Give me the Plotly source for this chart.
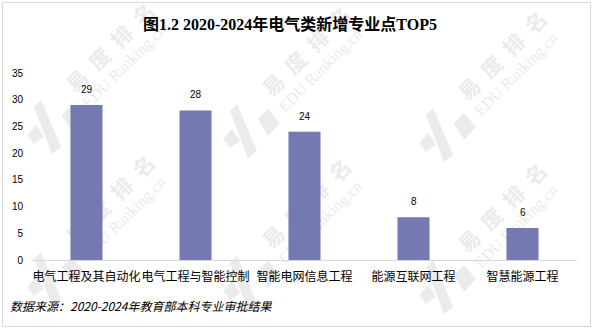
import plotly.graph_objects as go

# ---- data ----
majors = ["电气工程及其自动化", "电气工程与智能控制", "智能电网信息工程", "能源互联网工程", "智慧能源工程"]
new_programs = [29, 28, 24, 8, 6]
y_tick_values = [0, 5, 10, 15, 20, 25, 30, 35]

title_text = "图1.2 2020-2024年电气类新增专业点TOP5"
source_text = "数据来源：2020-2024年教育部本科专业审批结果"
brand_cn = "易\u2002度\u2002排\u2002名"
brand_en = "EDU Ranking.cn"

# ---- canvas geometry ----
W, H = 597, 332
ML, MR, MT, MB = 32, 20, 73, 72
PW = W - ML - MR
PH = H - MT - MB


def to_px(x):
    return (x - ML) / PW


def to_py(y):
    return (H - MB - y) / PH


BAR_COLOR = "#7579b1"
MARK_COLOR = "#ebebeb"
CJK = "Noto Sans CJK SC"

fig = go.Figure()
fig.add_trace(go.Bar(
    x=majors,
    y=new_programs,
    marker=dict(color=BAR_COLOR, line=dict(width=0)),
    hoverinfo="x+y",
))

annotations = []
# value labels above each bar
for name, val in zip(majors, new_programs):
    annotations.append(dict(
        x=name, y=val, xref="x", yref="y",
        text=str(val), showarrow=False,
        yanchor="bottom", yshift=8,
        font=dict(family="Liberation Sans, Arial", size=10, color="#000000"),
    ))

# source note
annotations.append(dict(
    x=to_px(8), y=to_py(305), xref="paper", yref="paper",
    text=source_text, showarrow=False,
    xanchor="left", yanchor="middle",
    font=dict(family=CJK, size=12, color="#000000", style="italic"),
))

shapes = []
# outer frame
shapes.append(dict(
    type="rect", xref="paper", yref="paper",
    x0=to_px(2.5), x1=to_px(590.5), y0=to_py(326.5), y1=to_py(2.5),
    line=dict(color="#d9d9d9", width=1), fillcolor="rgba(0,0,0,0)",
    layer="above",
))

# brand watermark, tiled behind the plot
logo_pieces = [
    [(-39, 45), (-30, 35), (-22, 47), (-32, 54)],
    [(-32, 17), (-25, 10), (-5, 57), (-14, 64)],
    [(-4, 25), (6, 15), (18, 29), (6, 42)],
]
anchors = []
for i in range(3):
    for j in range(2):
        anchors.append((66 + 196 * i, 90 + 4 * i + 152 * j))

for ax_, ay_ in anchors:
    for piece in logo_pieces:
        pts = [(to_px(ax_ + dx), to_py(ay_ + dy)) for dx, dy in piece]
        path = "M " + " L ".join(f"{x:.5f},{y:.5f}" for x, y in pts) + " Z"
        shapes.append(dict(
            type="path", xref="paper", yref="paper", path=path,
            fillcolor=MARK_COLOR, line=dict(width=0), layer="below",
        ))
    for text, (dx, dy), fam, size, weight in [
        (brand_cn, (46, -41), CJK, 21, "bold"),
        (brand_en, (57, -25), "Liberation Serif, serif", 16, "normal"),
    ]:
        cx, cy = to_px(ax_ + dx), to_py(ay_ + dy)
        shapes.append(dict(
            type="rect", xref="paper", yref="paper",
            x0=cx - 0.001, x1=cx + 0.001, y0=cy - 0.001, y1=cy + 0.001,
            line=dict(width=0), fillcolor="rgba(0,0,0,0)", layer="below",
            label=dict(text=text, textangle=-45, textposition="middle center",
                       font=dict(family=fam, size=size, color=MARK_COLOR, weight=weight)),
        ))

fig.update_layout(
    width=W, height=H,
    margin=dict(l=ML, r=MR, t=MT, b=MB, pad=0, autoexpand=False),
    paper_bgcolor="#ffffff",
    plot_bgcolor="rgba(0,0,0,0)",
    showlegend=False,
    bargap=0.706,
    title=dict(
        text=title_text,
        x=290 / W, xref="container", xanchor="center",
        y=1 - 24.5 / H, yanchor="middle",
        font=dict(family="Liberation Serif, " + CJK, size=16, color="#000000", weight="bold"),
    ),
    xaxis=dict(
        type="category",
        showline=True, linecolor="#d9d9d9", linewidth=1,
        showgrid=False, zeroline=False, ticks="",
        tickangle=0, automargin=False,
        tickfont=dict(family=CJK, size=12, color="#000000"),
        ticklabelstandoff=6,
    ),
    yaxis=dict(
        range=[0, 35],
        tickvals=y_tick_values,
        showline=False, showgrid=False, zeroline=False, ticks="",
        automargin=False,
        tickfont=dict(family="Liberation Sans, Arial", size=10, color="#000000"),
        ticklabelstandoff=8,
    ),
    annotations=annotations,
    shapes=shapes,
)

fig.write_html("out.html")
